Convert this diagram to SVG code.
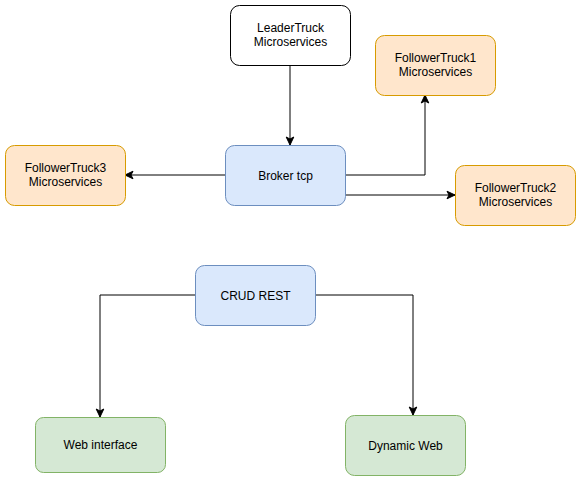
<svg xmlns="http://www.w3.org/2000/svg" width="581" height="481" viewBox="0 0 581 481">
<style>
.n rect{stroke-width:1}
.w{fill:#ffffff;stroke:#000000}
.o{fill:#ffe6cc;stroke:#d79b00}
.b{fill:#dae8fc;stroke:#6c8ebf}
.g{fill:#d5e8d4;stroke:#82b366}
text{font-family:"Liberation Sans",Arial,Helvetica,sans-serif;font-size:12px;fill:#000000;text-anchor:middle}
.c path{fill:none;stroke:#000000;stroke-width:1}
</style>
<defs>
<marker id="arr" viewBox="0 0 10 10" refX="9" refY="5" markerWidth="10" markerHeight="10" markerUnits="userSpaceOnUse" orient="auto">
<path d="M1,1.2 L9,5 L1,8.8 L3,5 Z" fill="#000000" stroke="#000000" stroke-width="1"/>
</marker>
</defs>
<rect width="581" height="481" fill="#ffffff"/>
<g id="connectors" class="c">
<path d="M290,65 L290,145" marker-end="url(#arr)"/>
<path d="M345,175 L425,175 L425,95" marker-end="url(#arr)"/>
<path d="M345,195 L455,195" marker-end="url(#arr)"/>
<path d="M225,175 L125,175" marker-end="url(#arr)"/>
<path d="M195,295 L100,295 L100,417" marker-end="url(#arr)"/>
<path d="M315,295 L413,295 L413,415" marker-end="url(#arr)"/>
</g>
<g id="leader" class="n"><rect class="w" x="230.5" y="5.5" width="120" height="60" rx="9"/><text x="290.5" y="32">LeaderTruck</text><text x="290.5" y="46">Microservices</text></g>
<g id="follower1" class="n"><rect class="o" x="375.5" y="35.5" width="120" height="60" rx="9"/><text x="435.5" y="62">FollowerTruck1</text><text x="435.5" y="76">Microservices</text></g>
<g id="broker" class="n"><rect class="b" x="225.5" y="145.5" width="120" height="60" rx="9"/><text x="285.5" y="180">Broker tcp</text></g>
<g id="follower3" class="n"><rect class="o" x="5.5" y="145.5" width="120" height="60" rx="9"/><text x="65.5" y="172">FollowerTruck3</text><text x="65.5" y="186">Microservices</text></g>
<g id="follower2" class="n"><rect class="o" x="455.5" y="165.5" width="120" height="60" rx="9"/><text x="515.5" y="192">FollowerTruck2</text><text x="515.5" y="206">Microservices</text></g>
<g id="crud" class="n"><rect class="b" x="195.5" y="265.5" width="120" height="60" rx="9"/><text x="255.5" y="300">CRUD REST</text></g>
<g id="webinterface" class="n"><rect class="g" x="35.5" y="417.5" width="130" height="55" rx="8"/><text x="100.5" y="449">Web interface</text></g>
<g id="dynamicweb" class="n"><rect class="g" x="345.5" y="415.5" width="120" height="60" rx="9"/><text x="405.5" y="450">Dynamic Web</text></g>
</svg>
